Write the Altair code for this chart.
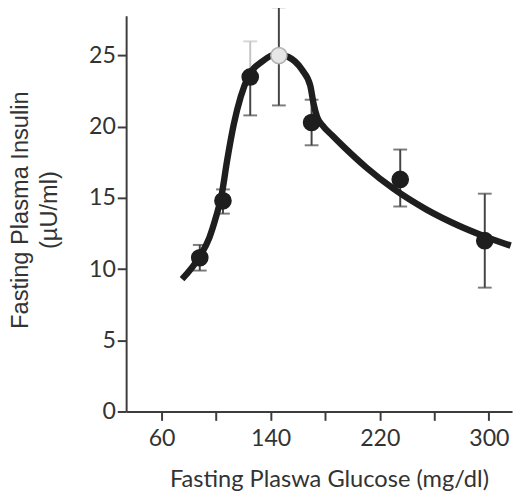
import altair as alt
import pandas as pd

# ---- data ----
glucose = [88, 105, 125, 146, 170, 235, 297]
insulin = [10.8, 14.8, 23.5, 25.0, 20.3, 16.3, 12.0]
insulin_lo = [9.9, 13.9, 20.8, 21.5, 18.7, 14.4, 8.7]
insulin_hi = [11.7, 15.6, 26.0, 28.4, 21.9, 18.4, 15.3]

curve_glucose = [75, 88, 95, 100, 104, 108, 113, 118, 124, 134, 144, 153, 163,
                 169, 171.5, 174, 178, 185, 194, 210, 230, 254, 278, 297, 316]
curve_insulin = [9.3, 10.9, 12.2, 13.7, 15.2, 17.6, 20.2, 22.1, 23.6, 24.6, 25.1,
                 24.9, 24.0, 22.9, 21.6, 20.7, 20.1, 19.4, 18.55, 17.15, 15.65,
                 14.2, 13.05, 12.3, 11.65]

x_ticks = [60, 100, 140, 180, 220, 260, 300]
y_ticks = [0, 5, 10, 15, 20, 25]
x_title = "Fasting Plaswa Glucose (mg/dl)"
y_title = ["Fasting Plasma Insulin", "(\u00b5U/ml)"]

# ---- styling (kept apart from the data) ----
INK = "#1e1e1e"
AXIS = "#3c3c3c"
FADED_POINT = 3          # index of the pale point at the peak
FADED_UPPER_WHISKER = 2  # index of the pale upper whisker

pts = pd.DataFrame({"glucose": glucose, "insulin": insulin})
pts["faded"] = [i == FADED_POINT for i in range(len(glucose))]

whiskers = []
for i, (g, v, lo, hi) in enumerate(zip(glucose, insulin, insulin_lo, insulin_hi)):
    whiskers.append({"glucose": g, "a": v, "b": hi, "end": hi,
                     "pale": i == FADED_UPPER_WHISKER})
    whiskers.append({"glucose": g, "a": lo, "b": v, "end": lo, "pale": False})
wh = pd.DataFrame(whiskers)

curve = pd.DataFrame({"glucose": curve_glucose, "insulin": curve_insulin})

x_scale = alt.Scale(domain=[34, 317], nice=False, zero=False)
y_scale = alt.Scale(domain=[0, 27.8], nice=False)

x_axis = alt.Axis(values=x_ticks, title=x_title,
                  labelExpr="datum.value % 80 == 60 ? datum.label : ''",
                  titleX=206, titleY=76, titleBaseline="alphabetic",
                  titleFont="Lato", titleFontSize=24, titleFontWeight="normal",
                  titleColor="#333", labelPadding=7)
y_axis = alt.Axis(values=y_ticks, title=y_title, titleAngle=-90,
                  titleX=-107, titleY=197, titleAlign="center",
                  titleBaseline="middle", titleLineHeight=29,
                  titleFont="Liberation Sans", titleFontSize=24,
                  titleFontWeight="normal", titleColor="#333", labelPadding=2)

line = alt.Chart(curve).mark_line(
    color=INK, strokeWidth=6.5, interpolate="monotone", strokeCap="butt"
).encode(
    x=alt.X("glucose:Q", scale=x_scale, axis=x_axis),
    y=alt.Y("insulin:Q", scale=y_scale, axis=y_axis),
)

rules = alt.Chart(wh).mark_rule(strokeWidth=2).encode(
    x=alt.X("glucose:Q", scale=x_scale, axis=x_axis),
    y=alt.Y("a:Q", scale=y_scale, axis=y_axis),
    y2="b:Q",
    color=alt.condition("datum.pale", alt.value("#c4c4c4"), alt.value("#444444")),
)

caps = alt.Chart(wh).mark_tick(orient="horizontal", size=14, thickness=2).encode(
    x=alt.X("glucose:Q", scale=x_scale, axis=x_axis),
    y=alt.Y("end:Q", scale=y_scale, axis=y_axis),
    color=alt.condition("datum.pale", alt.value("#c4c4c4"), alt.value("#444444")),
)

points = alt.Chart(pts).mark_point(filled=True, size=270, opacity=1, strokeWidth=1.5).encode(
    x=alt.X("glucose:Q", scale=x_scale, axis=x_axis),
    y=alt.Y("insulin:Q", scale=y_scale, axis=y_axis),
    fill=alt.condition("datum.faded", alt.value("#e6e6e6"), alt.value(INK)),
    stroke=alt.condition("datum.faded", alt.value("#b0b0b0"), alt.value(INK)),
)

chart = alt.layer(rules, caps, line, points).properties(
    width=392, height=402,
    padding={"left": 120, "top": 4, "right": 3, "bottom": 83},
    autosize="none",
    background="white",
).configure_view(stroke=None).configure_axis(
    grid=False,
    domainColor=AXIS, domainWidth=2,
    tickColor=AXIS, tickWidth=2, tickSize=9,
    labelFont="Lato", labelFontSize=23.5, labelColor="#333",
)

chart.save("out.html", embed_options={"renderer": "svg", "actions": False})
